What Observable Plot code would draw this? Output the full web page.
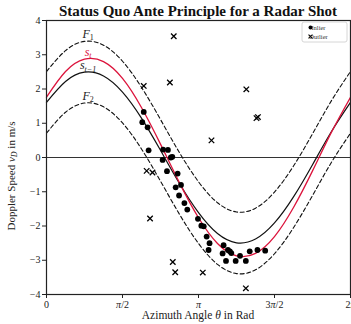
<!DOCTYPE html>
<html>
<head>
<meta charset="utf-8">
<script src="https://cdn.jsdelivr.net/npm/d3@7"></script>
<script src="https://cdn.jsdelivr.net/npm/@observablehq/plot@0.6"></script>
<style>
  html, body { margin: 0; padding: 0; background: white; }
  #chart { width: 351px; height: 324px; overflow: hidden; }
</style>
</head>
<body>
<div id="chart"></div>
<script>
// ---- data ----
const titleText = "Status Quo Ante Principle for a Radar Shot";
const xTickValues = [0, 1.5708, 3.1416, 4.7124, 6.2832];
const xTickLabels = ["0", "π/2", "π", "3π/2", "2π"];
const yTickValues = [-4, -3, -2, -1, 0, 1, 2, 3, 4];

const thetaGrid = [0, 0.393, 0.785, 1.178, 1.571, 1.963, 2.356, 2.749, 3.142, 3.534, 3.927, 4.320, 4.712, 5.105, 5.498, 5.890, 6.283];
const sPrev = [1.61, 2.22, 2.49, 2.38, 1.91, 1.15, 0.21, -0.76, -1.61, -2.22, -2.49, -2.38, -1.91, -1.15, -0.21, 0.76, 1.61];
const sCur  = [1.76, 2.51, 2.87, 2.80, 2.31, 1.46, 0.39, -0.74, -1.76, -2.51, -2.87, -2.80, -2.31, -1.46, -0.39, 0.74, 1.76];
const bandF1 = [2.51, 3.12, 3.39, 3.28, 2.81, 2.05, 1.11, 0.14, -0.71, -1.32, -1.59, -1.48, -1.01, -0.25, 0.69, 1.66, 2.51];
const bandF2 = [0.71, 1.32, 1.59, 1.48, 1.01, 0.25, -0.69, -1.66, -2.51, -3.12, -3.39, -3.28, -2.81, -2.05, -1.11, -0.14, 0.71];

const inlierTheta = [2.01, 1.98, 2.09, 2.11, 2.41, 2.51, 2.40, 2.57, 2.60, 2.49, 2.71, 2.67, 2.78, 2.74, 2.85, 2.91, 3.13, 3.20, 3.25, 3.31, 3.37, 3.35, 3.66, 3.64, 3.75, 3.79, 3.82, 3.71, 3.91, 4.00, 4.12, 4.20, 4.36, 4.52];
const inlierSpeed = [1.33, 1.03, 0.88, 0.21, 0.23, 0.22, -0.07, 0.00, 0.02, -0.40, -0.47, -0.87, -0.80, -1.11, -1.33, -1.52, -1.79, -1.99, -2.01, -2.31, -2.50, -2.70, -2.56, -2.80, -2.70, -2.74, -2.79, -3.02, -3.02, -2.87, -3.02, -2.74, -2.70, -2.72];

const outlierTheta = [2.63, 2.55, 2.01, 4.13, 4.34, 4.37, 3.41, 2.07, 2.19, 2.14, 2.61, 2.66, 3.23, 4.12];
const outlierSpeed = [3.54, 2.19, 2.09, 1.99, 1.15, 1.18, 0.50, -0.39, -0.44, -1.78, -3.05, -3.35, -3.36, -3.82];

const curveLabelMain = ["F", "s", "s", "F"];
const curveLabelSub = ["1", "t", "t−1", "2"];
const curveLabelTheta = [0.87, 0.87, 0.87, 0.87];
const curveLabelSpeed = [3.6, 3.07, 2.67, 1.78];
const curveLabelColors = ["#222", "#dc143c", "#222", "#222"];

const legendLabels = ["Inlier", "Outlier"];

// ---- build tables ----
const mk = (ys) => thetaGrid.map((t, i) => ({theta: t, v: ys[i]}));
const inliers = inlierTheta.map((t, i) => ({theta: t, v: inlierSpeed[i]}));
const outliers = outlierTheta.map((t, i) => ({theta: t, v: outlierSpeed[i]}));

const serif = "'Liberation Serif', 'DejaVu Serif', serif";
const W = 351, H = 324;
const mL = 46, mR = 1, mT = 20, mB = 30;

const chart = Plot.plot({
  width: W,
  height: H,
  marginLeft: mL,
  marginRight: mR,
  marginTop: mT,
  marginBottom: mB,
  style: {fontFamily: serif, fontSize: "10px", color: "#222", background: "white"},
  x: {domain: [0, 2 * Math.PI]},
  y: {domain: [-4, 4]},
  marks: [
    Plot.ruleY([0], {stroke: "#333", strokeWidth: 1}),
    Plot.line(mk(bandF1), {x: "theta", y: "v", stroke: "#111", strokeWidth: 1.1, strokeDasharray: "4,2.6", curve: "natural"}),
    Plot.line(mk(bandF2), {x: "theta", y: "v", stroke: "#111", strokeWidth: 1.1, strokeDasharray: "4,2.6", curve: "natural"}),
    Plot.line(mk(sPrev), {x: "theta", y: "v", stroke: "#111", strokeWidth: 1.2, curve: "natural"}),
    Plot.line(mk(sCur), {x: "theta", y: "v", stroke: "#dc143c", strokeWidth: 1.3, curve: "natural"}),
    Plot.dot(inliers, {x: "theta", y: "v", r: 2.9, fill: "black", stroke: "none"}),
    Plot.dot(outliers, {x: "theta", y: "v", symbol: "times", r: 2.6, stroke: "black", strokeWidth: 1.3}),
    Plot.axisY({ticks: yTickValues, tickSize: 4, tickFormat: d => d < 0 ? "−" + Math.abs(d) : String(d), label: null, fontSize: 10, tickPadding: 2}),
    Plot.axisX({ticks: xTickValues, tickSize: 4, tickFormat: (d, i) => xTickLabels[i], label: null, fontSize: 10, tickPadding: 2}),
    Plot.frame({stroke: "#222", strokeWidth: 1.2})
  ]
});

document.getElementById("chart").appendChild(chart);
const sx = chart.scale("x"), sy = chart.scale("y");

// italic pi in x tick labels
const svg = d3.select(chart);
svg.selectAll("g[aria-label='x-axis tick label'] text").each(function() {
  const t = this.textContent;
  if (t.includes("π")) {
    const sel = d3.select(this);
    sel.text("");
    const parts = t.split("π");
    if (parts[0]) sel.append("tspan").text(parts[0]);
    sel.append("tspan").attr("font-style", "italic").text("π");
    if (parts[1]) sel.append("tspan").text(parts[1]);
  }
});

// curve labels with true subscripts
curveLabelMain.forEach((m, i) => {
  const t = svg.append("text")
    .attr("x", sx.apply(curveLabelTheta[i]))
    .attr("y", sy.apply(curveLabelSpeed[i]))
    .attr("dy", "0.32em")
    .attr("text-anchor", "middle")
    .attr("font-family", serif).attr("font-size", 12).attr("fill", curveLabelColors[i]);
  t.append("tspan").attr("font-style", "italic").text(m);
  t.append("tspan").attr("font-size", 8).attr("dy", 2.5).attr("font-style", curveLabelSub[i].startsWith("t") ? "italic" : "normal").text(curveLabelSub[i]);
});

// title
const plotCx = mL + (W - mL - mR) / 2;
svg.append("text")
  .attr("x", plotCx).attr("y", 16)
  .attr("text-anchor", "middle")
  .attr("font-family", serif).attr("font-weight", "bold").attr("font-size", 15)
  .attr("fill", "#111")
  .text(titleText);

// x label
const xl = svg.append("text")
  .attr("x", plotCx).attr("y", 319)
  .attr("text-anchor", "middle")
  .attr("font-family", serif).attr("font-size", 11.5).attr("fill", "#222");
xl.append("tspan").text("Azimuth Angle ");
xl.append("tspan").attr("font-style", "italic").text("θ");
xl.append("tspan").text(" in Rad");

// y label
const yl = svg.append("text")
  .attr("transform", `translate(15,176) rotate(-90)`)
  .attr("text-anchor", "middle")
  .attr("font-family", serif).attr("font-size", 11).attr("fill", "#222");
yl.append("tspan").text("Doppler Speed ");
yl.append("tspan").attr("font-style", "italic").text("v");
yl.append("tspan").attr("font-style", "italic").attr("font-size", 8).attr("dy", 2).text("D");
yl.append("tspan").attr("dy", -2).text(" in m/s");

// legend
const lg = svg.append("g").attr("transform", "translate(302,22)");
lg.append("rect").attr("width", 45).attr("height", 20).attr("rx", 2)
  .attr("fill", "white").attr("fill-opacity", 0.85).attr("stroke", "#ccc").attr("stroke-width", 0.8);
lg.append("circle").attr("cx", 8.5).attr("cy", 5.5).attr("r", 2).attr("fill", "black");
lg.append("path").attr("d", d3.symbol(d3.symbolTimes, 12)()).attr("transform", "translate(8.5,14.5)")
  .attr("stroke", "black").attr("stroke-width", 1.1).attr("fill", "none");
legendLabels.forEach((s, i) => {
  lg.append("text").attr("x", 16.5).attr("y", 7.5 + i * 9)
    .attr("font-family", serif).attr("font-size", 6.5).attr("fill", "#333").text(s);
});
</script>
</body>
</html>
